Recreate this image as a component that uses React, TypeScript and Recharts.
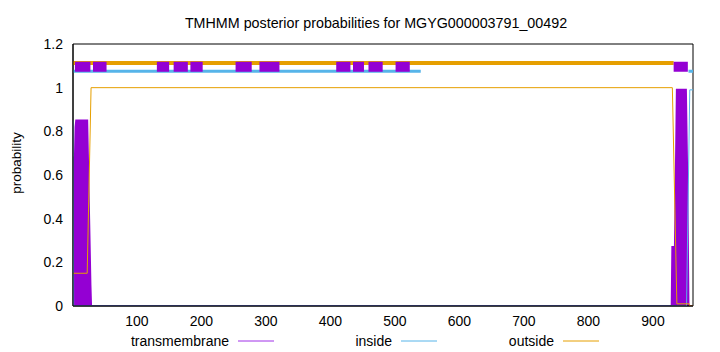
import React from 'react';
import {
  ComposedChart,
  Line,
  Area,
  XAxis,
  YAxis,
  ReferenceArea
} from 'recharts';

// sequence positions and posterior probabilities
const tmPos = [1, 2, 3, 4, 5, 6, 23, 24, 26, 28, 29, 929, 930, 934, 935, 937, 951, 953, 955, 962];
const tmProb = [0, 0, 0.68, 0.68, 0.82, 0.85, 0.85, 0.7, 0.4, 0.1, 0, 0, 0.27, 0.27, 0.5, 0.99, 0.99, 0.6, 0, 0];

const insidePos = [1, 2, 952, 957, 962];
const insideProb = [0.85, 0, 0, 0.99, 0.99];

const outsidePos = [1, 23, 29, 930, 937, 956, 957, 962];
const outsideProb = [0.15, 0.15, 1, 1, 0.01, 0.01, 0, 0];

// predicted topology band along the top
const outsideBand = [[1, 932]];
const insideBand = [[1, 540], [955, 962]];
const tmBand = [
  [4, 28], [32, 53], [131, 150], [157, 179], [183, 202], [253, 278],
  [290, 321], [409, 431], [435, 452], [459, 481], [501, 523], [932, 954]
];

const xTicks = [100, 200, 300, 400, 500, 600, 700, 800, 900];
const yTicks = [0, 0.2, 0.4, 0.6, 0.8, 1, 1.2];

const PURPLE = '#9400D3';
const BLUE = '#56B4E9';
const ORANGE = '#E69F00';
const FONT = '"Liberation Sans", Arial, sans-serif';

const toRows = (xs: number[], ys: number[]) => xs.map((pos, i) => ({ pos, v: ys[i] }));

const bandRows = (segs: number[][], level: number) => {
  const rows: { pos: number; v: number | null }[] = [];
  segs.forEach(([a, b]) => {
    rows.push({ pos: a, v: level });
    rows.push({ pos: b, v: level });
    rows.push({ pos: b + 0.1, v: null });
  });
  return rows;
};

const legendItems = [
  { name: 'transmembrane', color: '#a030e8', textEnd: 229, lineStart: 238 },
  { name: 'inside', color: BLUE, textEnd: 392, lineStart: 401 },
  { name: 'outside', color: ORANGE, textEnd: 554, lineStart: 563 }
];

const App: React.FC = () => {
  return (
    <div style={{ position: 'absolute', left: 0, top: 0, width: 720, height: 352, background: '#fff' }}>
      <ComposedChart width={720} height={352} margin={{ top: 44, right: 27, bottom: 16, left: 13 }}>
        <XAxis
          type="number"
          dataKey="pos"
          domain={[1, 962]}
          ticks={xTicks}
          allowDataOverflow
          tickLine={false}
          tickMargin={4}
          axisLine={{ stroke: '#000' }}
          tick={{ fontSize: 14, fill: '#000', fontFamily: FONT }}
          height={30}
        />
        <YAxis
          type="number"
          domain={[0, 1.2]}
          ticks={yTicks}
          allowDataOverflow
          tickLine={false}
          tickMargin={4}
          axisLine={{ stroke: '#000' }}
          tick={{ fontSize: 14, fill: '#000', fontFamily: FONT }}
          width={60}
        />
        <Area
          data={toRows(tmPos, tmProb)}
          dataKey="v"
          type="linear"
          stroke={PURPLE}
          strokeWidth={2}
          fill={PURPLE}
          fillOpacity={1}
          isAnimationActive={false}
          dot={false}
          activeDot={false}
        />
        <Line data={toRows(insidePos, insideProb)} dataKey="v" type="linear" stroke={BLUE} strokeWidth={1} dot={false} activeDot={false} isAnimationActive={false} />
        <Line data={toRows(outsidePos, outsideProb)} dataKey="v" type="linear" stroke={ORANGE} strokeWidth={1} dot={false} activeDot={false} isAnimationActive={false} />
        <Line data={bandRows(outsideBand, 1.113)} dataKey="v" type="linear" stroke={ORANGE} strokeWidth={4} dot={false} activeDot={false} isAnimationActive={false} />
        <Line data={bandRows(insideBand, 1.075)} dataKey="v" type="linear" stroke={BLUE} strokeWidth={3} dot={false} activeDot={false} isAnimationActive={false} />
        <Line data={bandRows(tmBand, 1.096)} dataKey="v" type="linear" stroke={PURPLE} strokeWidth={10} strokeLinecap="butt" dot={false} activeDot={false} isAnimationActive={false} />
        <ReferenceArea x1={1} x2={962} y1={0} y2={1.2} fill="none" fillOpacity={0} stroke="#000" strokeWidth={1} />
      </ComposedChart>
      <svg width={720} height={352} style={{ position: 'absolute', left: 0, top: 0, pointerEvents: 'none' }}>
        <text x={376} y={28} textAnchor="middle" fontSize={14.3} fontFamily={FONT} fill="#000">
          TMHMM posterior probabilities for MGYG000003791_00492
        </text>
        <text x={21} y={163} textAnchor="middle" fontSize={13.5} fontFamily={FONT} fill="#000" transform="rotate(-90 21 163)">
          probability
        </text>
        {legendItems.map((item) => (
          <g key={item.name}>
            <text x={item.textEnd} y={346} textAnchor="end" fontSize={14} fontFamily={FONT} fill="#000">
              {item.name}
            </text>
            <line x1={item.lineStart} x2={item.lineStart + 36} y1={341} y2={341} stroke={item.color} strokeWidth={1} />
          </g>
        ))}
      </svg>
    </div>
  );
};

export default App;
